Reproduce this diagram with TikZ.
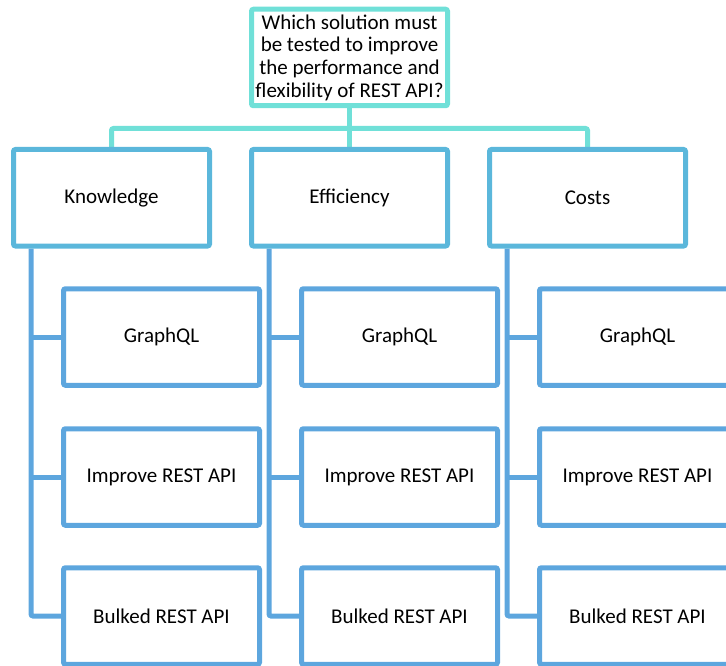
\documentclass[tikz,border=0pt]{standalone}
\usepackage{fontspec}
\setmainfont{Carlito}
\usetikzlibrary{backgrounds}
\definecolor{qteal}{RGB}{112,224,216}
\definecolor{midblue}{RGB}{91,183,219}
\definecolor{leafblue}{RGB}{93,166,222}
\begin{document}
\begin{tikzpicture}[x=1pt,y=-1pt,
  box/.style={draw, line width=5pt, fill=white, rounded corners=2pt,
    minimum width=196pt, minimum height=96.5pt, inner sep=0pt,
    font=\fontsize{21}{22.7}\selectfont, align=center},
  qbox/.style={box, draw=qteal},
  catbox/.style={box, draw=midblue},
  leafbox/.style={box, draw=leafblue},
  bus/.style={draw=qteal, line width=5pt, rounded corners=2pt},
  trunk/.style={draw=leafblue, line width=5pt, rounded corners=2pt}]
\clip (0,0) rectangle (726,666);
\useasboundingbox (0,0) rectangle (726,666);

% question at the top
\node[qbox] (q) at (349.5,57.5)
  {Which solution must\\be tested to improve\\the performance and\\flexibility of REST API?};

% three criteria
\node[catbox] (k) at (111.5,197.75) {Knowledge};
\node[catbox] (e) at (349.5,197.75) {Efficiency};
\node[catbox] (c) at (587.5,197.75) {Costs};

% candidate solutions under each criterion
\foreach \n/\x in {k/161.5, e/399.5, c/637.5}{
  \node[leafbox] (\n1) at (\x,337) {GraphQL};
  \node[leafbox] (\n2) at (\x,477) {Improve REST API};
  \node[leafbox] (\n3) at (\x,616) {Bulked REST API};
}

\begin{scope}[on background layer]
  % bus from the question to the criteria
  \coordinate (hub) at (349.5,128.5);
  \draw[bus] (q.south) -- (hub);
  \draw[bus] (k.north) |- (hub) -| (c.north);
  \draw[bus] (e.north) -- (e.north |- hub);

  % trunks from each criterion to its solutions
  \foreach \n in {k,e,c}{
    \coordinate (\n t) at ([xshift=20pt]\n.south west);
    \draw[trunk] (\n t) |- (\n3.west);
    \draw[trunk] (\n t |- \n1.west) -- (\n1.west);
    \draw[trunk] (\n t |- \n2.west) -- (\n2.west);
  }
\end{scope}
\end{tikzpicture}
\end{document}
